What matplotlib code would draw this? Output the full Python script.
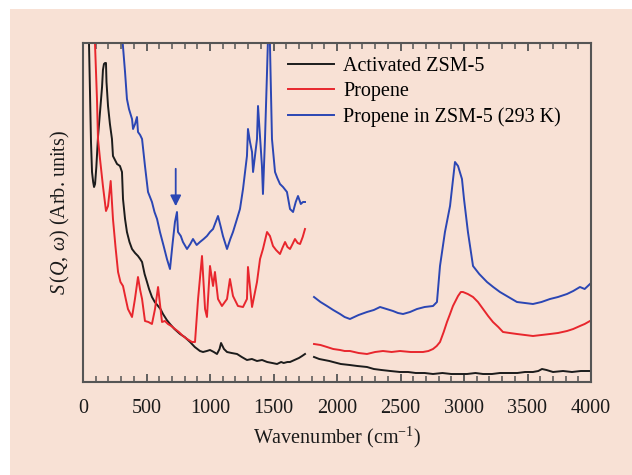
import numpy as np
import matplotlib
matplotlib.use("Agg")
import matplotlib.pyplot as plt
from matplotlib.patches import Rectangle
from matplotlib.ticker import MultipleLocator

plt.rcParams['font.family'] = ['Liberation Serif', 'DejaVu Serif']
plt.rcParams['mathtext.fontset'] = 'custom'
plt.rcParams['mathtext.rm'] = 'Liberation Serif'
plt.rcParams['mathtext.it'] = 'Liberation Serif:italic'

# spectra, two measured ranges each (gap near 1780 cm-1)
black_wn_lo = [47, 55, 63, 71, 80, 87, 95, 105, 118, 134, 150, 157, 165, 173, 181, 185, 197,
               212, 228, 236, 252, 268, 280, 291, 307, 315, 331, 346, 366, 386, 410, 433,
               450, 465, 485, 504, 520, 543, 565, 591, 610, 630, 660, 685, 720, 764, 800,
               843, 880, 921, 945, 975, 1000, 1030, 1055, 1075, 1087, 1110, 1134, 1170,
               1213, 1250, 1291, 1330, 1370, 1410, 1450, 1490, 1528, 1560, 1580, 1610,
               1630, 1665, 1700, 1725, 1748]
black_lo = [340, 290, 240, 210, 200, 195, 198, 215, 245, 270, 295, 312, 318, 319, 319, 300, 276,
            258, 243, 226, 222, 218, 217, 216, 210, 183, 163, 150, 140, 133, 129, 126,
            123, 120, 108, 100, 93, 85, 80, 76, 73, 68, 62, 58, 53, 48, 45,
            40, 35, 31, 30, 31, 32, 30, 28, 33, 39, 33, 30, 29,
            28, 25, 22, 23, 21, 22, 20, 19, 18, 20, 19, 20,
            20, 22, 24, 26, 28]
black_wn_hi = [1819, 1860, 1900, 1940, 1969, 2030, 2100, 2160, 2236, 2290, 2350, 2420, 2496,
               2560, 2620, 2690, 2756, 2830, 2900, 2960, 3024, 3090, 3150, 3220, 3283,
               3350, 3420, 3480, 3543, 3585, 3614, 3650, 3701, 3780, 3850, 3920, 3992]
black_hi = [25, 23, 22, 21, 20, 18, 17, 16, 15, 13, 12, 11, 10,
            10, 9, 9, 8, 9, 8, 8, 8, 9, 8, 8, 9,
            9, 9, 10, 10, 11, 13, 12, 10, 11, 10, 11, 11]

red_wn_lo = [94, 110, 118, 134, 157, 181, 197, 218, 236, 256, 276, 295, 315, 335, 354, 386,
             409, 433, 450, 465, 488, 515, 543, 567, 591, 622, 645, 669, 695, 724, 755,
             787, 820, 858, 882, 906, 937, 961, 976, 1000, 1024, 1039, 1063, 1094, 1134,
             1157, 1181, 1220, 1260, 1291, 1299, 1331, 1370, 1394, 1417, 1449, 1472,
             1496, 1520, 1551, 1570, 1591, 1610, 1630, 1650, 1669, 1690, 1709, 1730, 1748]
red_lo = [340, 283, 243, 223, 196, 171, 176, 201, 163, 135, 110, 100, 96, 84, 73, 65,
          83, 105, 92, 83, 61, 60, 58, 73, 95, 60, 61, 58, 56, 53, 50,
          46, 43, 40, 40, 83, 126, 73, 65, 116, 96, 110, 83, 76, 83,
          103, 86, 76, 75, 83, 115, 75, 100, 123, 133, 150, 146,
          136, 132, 128, 134, 140, 135, 133, 138, 143, 139, 138, 145, 153]
red_wn_hi = [1819, 1870, 1921, 1970, 2024, 2060, 2102, 2170, 2236, 2300, 2362, 2430, 2496,
             2580, 2677, 2720, 2756, 2785, 2811, 2840, 2866, 2890, 2913, 2953, 2975,
             2992, 3030, 3071, 3110, 3150, 3190, 3228, 3270, 3307, 3360, 3417, 3480,
             3543, 3610, 3677, 3740, 3811, 3860, 3913, 3950, 3992]
red_hi = [38, 37, 35, 33, 32, 31, 31, 29, 28, 30, 31, 30, 31,
          30, 30, 31, 33, 36, 40, 50, 60, 68, 76, 86, 90,
          90, 88, 85, 80, 73, 66, 60, 55, 50, 49, 48, 47,
          46, 47, 48, 49, 51, 53, 56, 58, 61]

blue_wn_lo = [312, 331, 346, 362, 386, 394, 410, 425, 433, 450, 465, 488, 512, 543, 563, 583,
              606, 635, 661, 685, 705, 724, 740, 748, 770, 787, 819, 845, 866, 895, 921,
              950, 976, 1000, 1024, 1063, 1085, 1102, 1134, 1160, 1181, 1210, 1236, 1260,
              1291, 1299, 1315, 1331, 1339, 1370, 1378, 1409, 1417, 1433, 1449, 1457, 1472,
              1488, 1512, 1530, 1551, 1575, 1606, 1630, 1654, 1675, 1693, 1715, 1732, 1748]
blue_lo = [340, 310, 283, 273, 263, 253, 258, 265, 250, 247, 243, 216, 190, 180, 170, 163,
           150, 136, 123, 113, 138, 160, 170, 150, 146, 140, 133, 138, 143, 137, 140,
           143, 146, 150, 153, 166, 155, 146, 133, 143, 150, 162, 173, 193,
           226, 253, 240, 230, 210, 243, 276, 216, 188, 243, 310, 345, 338,
           243, 210, 204, 198, 195, 190, 173, 170, 180, 186, 178, 180, 180]
blue_wn_hi = [1819, 1870, 1921, 1970, 2024, 2060, 2102, 2170, 2236, 2290, 2339, 2390, 2441,
              2480, 2520, 2575, 2630, 2690, 2756, 2787, 2811, 2850, 2890, 2929, 2953,
              2984, 3000, 3031, 3071, 3120, 3181, 3230, 3283, 3350, 3417, 3480, 3543,
              3610, 3677, 3740, 3811, 3860, 3913, 3950, 3992]
blue_hi = [85, 80, 76, 72, 68, 65, 63, 67, 70, 72, 75, 73, 71,
           69, 68, 70, 73, 75, 76, 80, 116, 150, 176, 220, 216,
           203, 183, 150, 116, 108, 100, 95, 90, 85, 80, 79, 78,
           80, 83, 85, 88, 91, 95, 93, 98]

labels = ["Activated ZSM-5", "Propene", "Propene in ZSM-5 (293 K)"]
colors = ["#1c1c1c", "#e8262d", "#2b46b4"]

bg = "#f8e1d5"


def join(wn_lo, lo, wn_hi, hi):
    x = np.concatenate([wn_lo, [np.nan], wn_hi])
    y = np.concatenate([lo, [np.nan], hi])
    return x, y


fig = plt.figure(figsize=(6.32, 4.75), dpi=100, facecolor="white")
fig.patches.append(Rectangle((10 / 632, 0), 1, 1 - 9 / 475, transform=fig.transFigure,
                             facecolor=bg, edgecolor="none", zorder=-10))
ax = fig.add_axes([83 / 632, 1 - 382 / 475, 508 / 632, 339 / 475])
ax.set_facecolor(bg)

series = [join(black_wn_lo, black_lo, black_wn_hi, black_hi),
          join(red_wn_lo, red_lo, red_wn_hi, red_hi),
          join(blue_wn_lo, blue_lo, blue_wn_hi, blue_hi)]
for (x, y), c, lab in zip(series, colors, labels):
    ax.plot(x, y, color=c, lw=1.4, label=lab)

# marker arrow over the 740 cm-1 band
ax.annotate("", xy=(730, 173), xytext=(730, 216),
            arrowprops=dict(arrowstyle="-|>", color=colors[2], lw=1.3, mutation_scale=16))

ax.set_xlim(0, 4000)
ax.set_ylim(0, 339)
ax.xaxis.set_major_locator(MultipleLocator(500))
ax.xaxis.set_minor_locator(MultipleLocator(100))
ax.tick_params(axis="x", which="both", direction="in", top=True, bottom=True,
               colors="#555555", labelcolor="#1a1a1a", labelsize=14.5, pad=12)
ax.tick_params(axis="x", which="major", length=6, width=1.3)
ax.tick_params(axis="x", which="minor", length=4, width=1.1)
ax.tick_params(axis="y", left=False, labelleft=False)
for s in ax.spines.values():
    s.set_color("#555555")
    s.set_linewidth(1.5)

ax.set_xlabel("Wavenumber (cm$^{-1}$)", fontsize=14.5, color="#1a1a1a", labelpad=5)
ax.set_ylabel(r"$S\,(Q,\,\omega)$ (Arb. units)", fontsize=14.5, color="#1a1a1a")
ax.yaxis.set_label_coords(-0.022, 0.5)

ax.legend(loc="upper left", bbox_to_anchor=(205 / 508, 0.96), frameon=False,
          fontsize=14.5, handlelength=2.3, handletextpad=0.45, labelspacing=0.3,
          borderpad=0, borderaxespad=0)

fig.savefig("out.png", dpi=100, facecolor=fig.get_facecolor())
